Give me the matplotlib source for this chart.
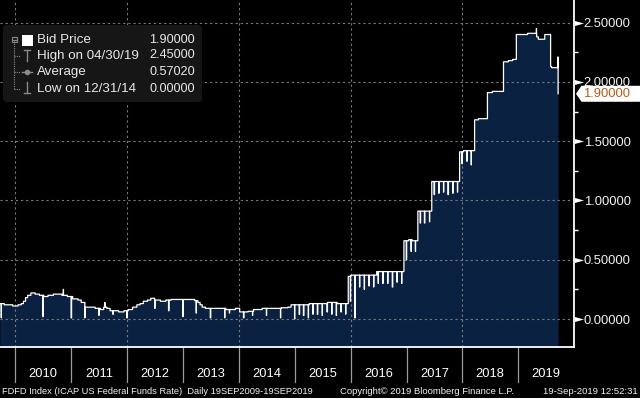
import numpy as np
import pandas as pd
import matplotlib
matplotlib.use("Agg")
import matplotlib.pyplot as plt
import matplotlib.transforms as mtransforms
from matplotlib.patches import FancyBboxPatch, Polygon, Rectangle
from matplotlib.ticker import FixedLocator, FuncFormatter

# ---------------- data ----------------
LEVEL_DATES = [
    "2009-09-21", "2009-10-20", "2009-11-16", "2009-12-14", "2010-01-18", "2010-02-08",
    "2010-02-22", "2010-03-08", "2010-03-22", "2010-04-12", "2010-05-10", "2010-06-07",
    "2010-07-05", "2010-08-02", "2010-09-06", "2010-10-04", "2010-11-01", "2010-12-06",
    "2011-01-10", "2011-02-14", "2011-03-07", "2011-04-01", "2011-05-16", "2011-06-06",
    "2011-07-11", "2011-08-01", "2011-08-22", "2011-09-12", "2011-10-10", "2011-11-07",
    "2011-12-12", "2012-01-09", "2012-02-06", "2012-03-05", "2012-03-26", "2012-04-16",
    "2012-05-14", "2012-06-04", "2012-07-02", "2012-08-06", "2012-09-10", "2012-10-15",
    "2012-12-03", "2013-02-04", "2013-03-18", "2013-04-08", "2013-04-22", "2013-05-06",
    "2013-05-27", "2013-08-05", "2013-10-07", "2013-11-18", "2013-12-09", "2014-01-06",
    "2014-03-03", "2014-04-07", "2014-06-02", "2014-08-04", "2014-10-06", "2014-11-17",
    "2014-12-08", "2015-02-02", "2015-04-06", "2015-06-01", "2015-08-03", "2015-10-05",
    "2015-11-09", "2015-12-17", "2016-01-04", "2016-06-20", "2016-12-15", "2017-01-16",
    "2017-02-06", "2017-03-16", "2017-06-15", "2017-12-14", "2018-01-08", "2018-03-22",
    "2018-04-16", "2018-06-14", "2018-07-16", "2018-09-27", "2018-10-29", "2018-11-26",
    "2018-12-20", "2019-03-04", "2019-05-02", "2019-05-13", "2019-06-24", "2019-08-01",
    "2019-08-08", "2019-09-17", "2019-09-19",
]
LEVEL_VALUES = [
    0.13, 0.12, 0.12, 0.11, 0.12, 0.13,
    0.15, 0.18, 0.20, 0.22, 0.21, 0.20,
    0.19, 0.20, 0.21, 0.21, 0.20, 0.19,
    0.17, 0.16, 0.14, 0.10, 0.10, 0.09,
    0.08, 0.10, 0.09, 0.07, 0.07, 0.06,
    0.07, 0.08, 0.10, 0.12, 0.13, 0.15,
    0.16, 0.175, 0.16, 0.15, 0.16, 0.165,
    0.165, 0.165, 0.155, 0.14, 0.12, 0.10,
    0.09, 0.09, 0.08, 0.08, 0.09, 0.06,
    0.065, 0.08, 0.09, 0.09, 0.095, 0.10,
    0.12, 0.12, 0.13, 0.13, 0.14, 0.13,
    0.13, 0.36, 0.37, 0.40, 0.66, 0.67,
    0.66, 0.91, 1.16, 1.41, 1.42, 1.68,
    1.69, 1.91, 1.92, 2.17, 2.18, 2.19,
    2.40, 2.41, 2.38, 2.36, 2.40, 2.13,
    2.12, 2.21, 1.90,
]

# single-day moves away from the level (month / quarter ends etc.)
SPIKE_DATES = [
    "2009-09-30", "2010-06-30", "2010-11-10", "2010-12-31", "2011-03-31", "2011-06-30",
    "2011-08-08", "2011-09-30", "2011-12-30", "2012-06-29", "2012-09-28", "2012-12-31",
    "2013-03-28", "2013-06-28", "2013-09-30", "2013-10-31", "2014-01-31", "2014-03-31",
    "2014-06-30", "2014-09-30", "2014-12-31", "2015-01-30", "2015-02-27", "2015-03-31",
    "2015-04-30", "2015-05-29", "2015-06-30", "2015-07-31", "2015-08-31", "2015-09-30",
    "2015-10-30", "2015-11-30", "2015-12-31", "2016-01-29", "2016-02-29", "2016-03-31",
    "2016-04-29", "2016-05-31", "2016-06-30", "2016-07-29", "2016-08-31", "2016-09-30",
    "2016-10-31", "2016-11-30", "2016-12-30", "2017-01-31", "2017-02-28", "2017-03-31",
    "2017-04-28", "2017-05-31", "2017-06-30", "2017-07-31", "2017-08-31", "2017-09-29",
    "2017-10-31", "2017-11-30", "2017-12-29", "2018-01-31", "2018-02-28", "2019-04-30",
]
SPIKE_VALUES = [
    0.01, 0.02, 0.25, 0.01, 0.01, 0.03,
    0.14, 0.04, 0.01, 0.09, 0.07, 0.02,
    0.05, 0.01, 0.01, 0.05, 0.01, 0.03,
    0.03, 0.01, 0.00, 0.04, 0.03, 0.01,
    0.04, 0.04, 0.03, 0.06, 0.04, 0.03,
    0.06, 0.04, 0.15, 0.01, 0.27, 0.25,
    0.28, 0.27, 0.30, 0.30, 0.30, 0.27,
    0.31, 0.30, 0.50, 0.57, 0.57, 0.81,
    0.81, 0.82, 1.05, 1.06, 1.07, 1.05,
    1.06, 1.07, 1.31, 1.33, 1.30, 2.45,
]

YEARS = list(range(2010, 2020))
GRID_YEARS = [2010, 2012, 2014, 2016, 2018]
YTICKS = [0.0, 0.5, 1.0, 1.5, 2.0, 2.5]
YMINOR = [0.25, 0.75, 1.25, 1.75, 2.25]
LAST_VALUE = 1.90
LEGEND_LABELS = ["Bid Price", "High on 04/30/19", "Average", "Low on 12/31/14"]
LEGEND_VALUES = ["1.90000", "2.45000", "0.57020", "0.00000"]
FOOTER_LEFT = "FDFD Index (ICAP US Federal Funds Rate)  Daily 19SEP2009-19SEP2019"
FOOTER_MID = "Copyright\u00a9 2019 Bloomberg Finance L.P."
FOOTER_RIGHT = "19-Sep-2019 12:52:31"
X_START, X_END = "2009-09-22", "2020-01-01"
Y_MIN, Y_MAX = -0.236, 2.691

# ---------------- build daily series ----------------
days = pd.bdate_range("2009-09-21", "2019-09-19")
base = pd.Series(LEVEL_VALUES, index=pd.to_datetime(LEVEL_DATES))
daily = base.reindex(base.index.union(days)).ffill().loc[days].copy()
for d, v in zip(pd.to_datetime(SPIKE_DATES), SPIKE_VALUES):
    i = daily.index.get_indexer([d], method="nearest")[0]
    daily.iloc[i] = v

# ---------------- figure ----------------
W, H = 640, 398
AX_R, AX_B = 574, 347
plt.rcParams["font.family"] = ["Liberation Sans", "DejaVu Sans"]
fig = plt.figure(figsize=(W / 100, H / 100), dpi=100, facecolor="black")
ax = fig.add_axes([0, (H - AX_B) / H, AX_R / W, AX_B / H])
ax.set_facecolor("black")

NAVY = "#0b2141"
ax.fill_between(daily.index, daily.values, Y_MIN, step="post", color=NAVY, lw=0, zorder=1)
ax.step(daily.index, daily.values, where="post", color="white", lw=0.9, zorder=3)
ax.set_xlim(pd.Timestamp(X_START), pd.Timestamp(X_END))
ax.set_ylim(Y_MIN, Y_MAX)

for s in ["left", "top"]:
    ax.spines[s].set_visible(False)
for s in ["right", "bottom"]:
    ax.spines[s].set_color("white")
    ax.spines[s].set_linewidth(1.3)
    ax.spines[s].set_zorder(4)

# grid
ax.set_xticks([pd.Timestamp(f"{y}-01-01") for y in GRID_YEARS])
ax.tick_params(axis="x", length=0, labelbottom=False)
ax.yaxis.tick_right()
ax.yaxis.set_major_locator(FixedLocator(YTICKS))
ax.yaxis.set_minor_locator(FixedLocator(YMINOR))
ax.yaxis.set_major_formatter(FuncFormatter(lambda v, p: f"{v:.5f}"))
ax.tick_params(axis="y", which="major", length=0, pad=7.0, labelsize=9.4, labelcolor="#f2f2f2")
ax.tick_params(axis="y", which="minor", length=3, width=1.0, color="white", direction="out")
ax.set_axisbelow(False)
ax.grid(True, which="major", color="#7a7a7a", ls=(0, (2, 2.6)), lw=0.8)

# triangular major tick marks
tri = [(-1, -0.55), (1, 0), (-1, 0.55), (-1, -0.55)]
tr = mtransforms.blended_transform_factory(ax.transAxes, ax.transData) + \
    mtransforms.ScaledTranslation(4.5 / 100, 0, fig.dpi_scale_trans)
ax.plot([1.0] * len(YTICKS), YTICKS, ls="none", marker=tri, ms=6.5, color="white",
        mec="white", mew=0, transform=tr, clip_on=False, zorder=5)

# year band: separators and labels
tb = mtransforms.blended_transform_factory(ax.transData, ax.transAxes)
for y in YEARS:
    d = pd.Timestamp(f"{y}-01-01")
    ax.plot([d, d], [0, -34.5 / AX_B], color="#9a9a9a", lw=0.9, transform=tb, clip_on=False)
    mid = pd.Timestamp(f"{y}-07-02")
    ax.text(mid, -(374 - AX_B) / AX_B, str(y), transform=tb, ha="center", va="center",
            color="white", fontsize=9.3, clip_on=False)

# ---------------- overlay in pixel coordinates ----------------
ov = fig.add_axes([0, 0, 1, 1], zorder=10)
ov.set_xlim(0, W)
ov.set_ylim(H, 0)
ov.axis("off")
ov.patch.set_alpha(0)

# last value label
y_last = H - ax.transData.transform((0, LAST_VALUE))[1]
ov.add_patch(Polygon([(576, y_last), (581.5, y_last - 8), (W, y_last - 8), (W, y_last + 8),
                      (581.5, y_last + 8)], closed=True, fc="white", ec="none", zorder=5))
ov.text(583, y_last + 0.5, f"{LAST_VALUE:.5f}", ha="left", va="center", fontsize=9.4,
        color="#b85a14", zorder=6)

# legend box
ov.add_patch(FancyBboxPatch((3, 25), 199, 77, boxstyle="round,pad=0,rounding_size=4",
                            fc="#161616", ec="none", zorder=2))
gray = "#8a8a8a"
rows = [40, 55.5, 72, 88.5]
ov.plot([14, 14], [41, rows[3]], color=gray, lw=0.8, ls=(0, (1, 1)), zorder=3)
for r in rows[1:]:
    ov.plot([14, 20], [r, r], color=gray, lw=0.8, ls=(0, (1, 1)), zorder=3)
ov.add_patch(Rectangle((11.5, 37), 5, 5, fc="none", ec=gray, lw=0.8, zorder=3))
ov.plot([12.5, 15.5], [39.5, 39.5], color=gray, lw=0.8, zorder=3)
ov.add_patch(Rectangle((21.5, 34.5), 11, 11, fc="white", ec="none", zorder=3))
# high icon
ov.plot([27, 27], [50, 61], color=gray, lw=1.0, zorder=3)
ov.plot([24, 30], [50, 50], color=gray, lw=1.0, zorder=3)
# average icon
ov.plot([22, 32], [72, 72], color=gray, lw=1.0, zorder=3)
ov.plot([27], [72], marker="o", ms=3, color=gray, zorder=3)
# low icon
ov.plot([27, 27], [82, 93], color=gray, lw=1.0, zorder=3)
ov.plot([24, 30], [93, 93], color=gray, lw=1.0, zorder=3)
for r, lab, val in zip(rows, LEGEND_LABELS, LEGEND_VALUES):
    ov.text(37, r, lab, ha="left", va="center", fontsize=9.6, color="#e8e8e8", zorder=4)
    ov.text(195, r, val, ha="right", va="center", fontsize=9.1, color="#e8e8e8", zorder=4)

# footer, fitted to measured widths
renderer = fig.canvas.get_renderer()
for txt, x0, x1 in [(FOOTER_LEFT, 2, 312), (FOOTER_MID, 340, 513), (FOOTER_RIGHT, 543, 637)]:
    t = ov.text(x0, 391, txt, ha="left", va="center", fontsize=7, color="#f0f0f0")
    w = t.get_window_extent(renderer).width
    t.set_fontsize(7 * (x1 - x0) / w)

fig.savefig("out.png", dpi=100, facecolor="black")
